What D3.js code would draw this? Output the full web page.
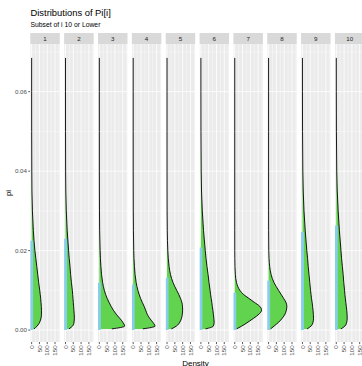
<!DOCTYPE html>
<html>
<head>
<meta charset="utf-8">
<script src="https://cdn.jsdelivr.net/npm/d3@7"></script>
<style>
  html, body { margin: 0; padding: 0; background: #ffffff; }
  svg { display: block; font-family: "Liberation Sans", Arial, sans-serif; }
</style>
</head>
<body>
<svg id="chart" width="362" height="366"></svg>
<script>
// Facet labels (value of i)
const panels = ["1", "2", "3", "4", "5", "6", "7", "8", "9", "10"];

// Grid of pi values at which each density is evaluated
const piGrid = [0.0003, 0.001, 0.002, 0.003, 0.004, 0.005, 0.006, 0.007, 0.008, 0.009,
                0.010, 0.012, 0.014, 0.016, 0.018, 0.020, 0.025, 0.030, 0.035, 0.040,
                0.050, 0.060, 0.0685];

// Posterior density of pi[i] for each panel, on piGrid
const dens1  = [15, 35, 52, 60, 63, 63, 62, 60, 58, 55, 52, 45, 39, 33, 27, 21, 11, 5, 2, 1, 0.2, 0.05, 0.01];
const dens2  = [22, 45, 55, 57, 56, 54, 52, 50, 48, 46, 44, 38, 33, 29, 24, 20, 11, 5, 2, 0.8, 0.2, 0.05, 0.01];
const dens3  = [80, 162, 150, 130, 108, 90, 75, 62, 50, 40, 32, 21, 14, 10, 7, 5, 2, 1, 0.4, 0.2, 0.05, 0.01, 0];
const dens4  = [62, 140, 125, 105, 90, 80, 70, 58, 47, 38, 30, 19, 12, 8, 5, 3.5, 1.5, 0.6, 0.3, 0.1, 0.03, 0.01, 0];
const dens5  = [28, 60, 82, 93, 98, 100, 99, 95, 86, 75, 62, 38, 22, 13, 8, 5, 1.5, 0.5, 0.2, 0.1, 0.02, 0.01, 0];
const dens6  = [30, 80, 85, 83, 80, 77, 73, 70, 66, 62, 59, 52, 46, 39, 33, 28, 17, 9, 4, 2, 0.5, 0.1, 0.02];
const dens7  = [12, 45, 85, 122, 155, 172, 160, 125, 90, 55, 33, 11, 4, 1.5, 0.6, 0.2, 0.05, 0.01, 0, 0, 0, 0, 0];
const dens8  = [13, 35, 65, 88, 105, 114, 117, 111, 96, 80, 64, 34, 16, 7, 3, 1.2, 0.2, 0.05, 0, 0, 0, 0, 0];
const dens9  = [30, 55, 68, 71, 70, 68, 65, 62, 58, 55, 52, 47, 42, 37, 33, 28, 18, 10, 5, 2.5, 0.6, 0.15, 0.03];
const dens10 = [30, 55, 67, 70, 69, 67, 64, 61, 58, 55, 53, 48, 44, 39, 34, 30, 20, 12, 6, 3, 0.8, 0.2, 0.04];
const densities = [dens1, dens2, dens3, dens4, dens5, dens6, dens7, dens8, dens9, dens10];

// Upper end of the highlighted interval (from 0) for each panel
const intervalUpper = [0.0225, 0.0230, 0.0119, 0.0115, 0.0132, 0.0208, 0.0094, 0.0124, 0.0247, 0.0263];

// Axis ticks
const xTicks = [0, 50, 100, 150];
const xMinor = [25, 75, 125, 175];
const yTicks = [0.00, 0.02, 0.04, 0.06];
const yMinor = [0.01, 0.03, 0.05, 0.07];

const svg = d3.select("#chart");

const panelTop = 44, panelBottom = 342, stripH = 11;

const fx = d3.scaleBand().domain(panels).range([30.3, 364.45]).paddingInner(0.1285).paddingOuter(0);
const x = d3.scaleLinear().domain([-8.6, 180.6]).range([0, fx.bandwidth()]);
const y = d3.scaleLinear().domain([-0.003, 0.072]).range([panelBottom, panelTop]);

// Titles
svg.append("text").attr("x", 30.5).attr("y", 15.5)
  .attr("font-size", 9.4).attr("fill", "#000").text("Distributions of Pi[i]");
svg.append("text").attr("x", 30.5).attr("y", 26.5)
  .attr("font-size", 6.8).attr("fill", "#000").text("Subset of i 10 or Lower");

// Axis titles
svg.append("text")
  .attr("transform", `translate(10.5,${(panelTop + panelBottom) / 2}) rotate(-90)`)
  .attr("text-anchor", "middle").attr("font-size", 8).attr("fill", "#000").text("pi");
svg.append("text").attr("x", 195.5).attr("y", 365.5)
  .attr("text-anchor", "middle").attr("font-size", 8).attr("fill", "#000").text("Density");

// Y axis (left of first panel)
const yAxisG = svg.append("g");
yTicks.forEach(t => {
  yAxisG.append("line").attr("x1", 28.2).attr("x2", 30.3)
    .attr("y1", y(t)).attr("y2", y(t)).attr("stroke", "#333").attr("stroke-width", 0.8);
  yAxisG.append("text").attr("x", 27).attr("y", y(t)).attr("dy", "0.35em")
    .attr("text-anchor", "end").attr("font-size", 6.2).attr("fill", "#4D4D4D")
    .text(d3.format(".2f")(t));
});

const area = d3.area()
  .y(d => y(d.pi)).x0(x(0)).x1(d => x(d.dens))
  .curve(d3.curveMonotoneY);
const outline = d3.line()
  .y(d => y(d.pi)).x(d => x(d.dens))
  .curve(d3.curveMonotoneY);

const defs = svg.append("defs");

panels.forEach((p, i) => {
  const g = svg.append("g").attr("transform", `translate(${fx(p)},0)`);
  const w = fx.bandwidth();

  defs.append("clipPath").attr("id", "clip" + i)
    .append("rect").attr("x", 0).attr("y", panelTop).attr("width", w).attr("height", panelBottom - panelTop);

  // Strip
  g.append("rect").attr("x", 0).attr("y", panelTop - stripH).attr("width", w).attr("height", stripH)
    .attr("fill", "#D9D9D9");
  g.append("text").attr("x", w / 2).attr("y", panelTop - stripH / 2).attr("dy", "0.35em")
    .attr("text-anchor", "middle").attr("font-size", 6.2).attr("fill", "#1A1A1A").text(p);

  const body = g.append("g").attr("clip-path", `url(#clip${i})`);
  body.append("rect").attr("x", 0).attr("y", panelTop).attr("width", w).attr("height", panelBottom - panelTop)
    .attr("fill", "#EBEBEB");

  // Grid
  yMinor.forEach(t => body.append("line").attr("x1", 0).attr("x2", w).attr("y1", y(t)).attr("y2", y(t))
    .attr("stroke", "#fff").attr("stroke-width", 0.4));
  xMinor.forEach(t => body.append("line").attr("x1", x(t)).attr("x2", x(t)).attr("y1", panelTop).attr("y2", panelBottom)
    .attr("stroke", "#fff").attr("stroke-width", 0.4));
  yTicks.forEach(t => body.append("line").attr("x1", 0).attr("x2", w).attr("y1", y(t)).attr("y2", y(t))
    .attr("stroke", "#fff").attr("stroke-width", 0.8));
  xTicks.forEach(t => body.append("line").attr("x1", x(t)).attr("x2", x(t)).attr("y1", panelTop).attr("y2", panelBottom)
    .attr("stroke", "#fff").attr("stroke-width", 0.8));

  const pts = piGrid.map((pi, k) => ({ pi: pi, dens: densities[i][k] }));

  body.append("path").datum(pts).attr("d", area).attr("fill", "#62D34F");
  body.append("path").datum(pts).attr("d", outline)
    .attr("fill", "none").attr("stroke", "#000").attr("stroke-width", 0.9);

  // Interval bar from 0 to its upper bound
  body.append("line").attr("x1", x(0)).attr("x2", x(0))
    .attr("y1", y(0)).attr("y2", y(intervalUpper[i]))
    .attr("stroke", "#87CEEB").attr("stroke-width", 3);

  // X axis ticks and rotated labels
  xTicks.forEach(t => {
    g.append("line").attr("x1", x(t)).attr("x2", x(t)).attr("y1", panelBottom).attr("y2", panelBottom + 2.1)
      .attr("stroke", "#333").attr("stroke-width", 0.8);
    g.append("text")
      .attr("transform", `translate(${x(t) + 2.1},${panelBottom + 3.3}) rotate(-90)`)
      .attr("text-anchor", "end").attr("font-size", 6.2).attr("fill", "#4D4D4D").text(t);
  });
});
</script>
</body>
</html>
